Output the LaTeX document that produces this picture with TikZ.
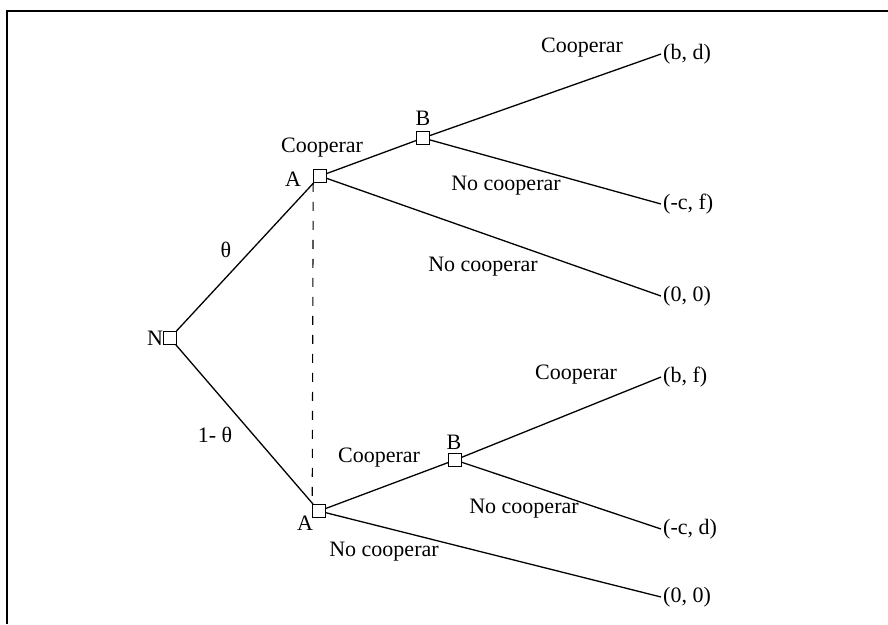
\documentclass[tikz,border=0pt]{standalone}
\usepackage{fontspec}
\setmainfont{Liberation Serif}
\begin{document}
\begin{tikzpicture}[x=1pt,y=-1pt,
  every node/.style={font=\fontsize{22}{26}\selectfont},
  dec/.style={draw,line width=1.1pt,minimum size=12.5pt,inner sep=0pt,fill=white},
  term/.style={anchor=west,inner sep=2pt},
  lab/.style={inner sep=0pt},
  edge/.style={line width=1.3pt},
  info/.style={line width=1.1pt,dash pattern=on 9pt off 10pt}]
\useasboundingbox (0,0) rectangle (888,624);
\draw[line width=1.4pt] (7,624) -- (7,11) -- (888,11);
% decision nodes
\node[dec] (N) at (170,338) {};
\node[dec] (A1) at (320,176) {};
\node[dec] (B1) at (423,138) {};
\node[dec] (A2) at (319,511) {};
\node[dec] (B2) at (455,460) {};
% terminals
\node[term] (t1) at (661,54) {(b, d)};
\node[term] (t2) at (661,204) {(-c, f)};
\node[term] (t3) at (661,296) {(0, 0)};
\node[term] (t4) at (661,377) {(b, f)};
\node[term] (t5) at (661,529) {(-c, d)};
\node[term] (t6) at (661,597) {(0, 0)};
% edges
\draw[edge] (N) -- (A1);
\draw[edge] (N) -- (A2);
\draw[edge] (A1) -- (B1);
\draw[edge] (A1) -- (t3.west);
\draw[edge] (B1) -- (t1.west);
\draw[edge] (B1) -- (t2.west);
\draw[edge] (A2) -- (B2);
\draw[edge] (A2) -- (t6.west);
\draw[edge] (B2) -- (t4.west);
\draw[edge] (B2) -- (t5.west);
\draw[info] (A1.south west) -- (A2.north west);
% redraw squares on top
\node[dec] at (N) {};
\node[dec] at (A1) {};
\node[dec] at (B1) {};
\node[dec] at (A2) {};
\node[dec] at (B2) {};
% labels
\node[lab] (lN) at (155,338) {N};
\node[lab] (lA1) at (293,179) {A};
\node[lab] (lB1) at (423,118) {B};
\node[lab] (lA2) at (305,523) {A};
\node[lab] (lB2) at (454,442) {B};
\node[lab] (th) at (226,250) {θ};
\node[lab] (th2) at (215,435) {1- θ};
\node[lab] (c1) at (322,148) {Cooperar};
\node[lab] (c2) at (582,48) {Cooperar};
\node[lab] (n1) at (506,186) {No cooperar};
\node[lab] (n2) at (483,267) {No cooperar};
\node[lab] (c3) at (379,458) {Cooperar};
\node[lab] (c4) at (576,375) {Cooperar};
\node[lab] (n3) at (524,509) {No cooperar};
\node[lab] (n4) at (384,552) {No cooperar};
\end{tikzpicture}
\end{document}
